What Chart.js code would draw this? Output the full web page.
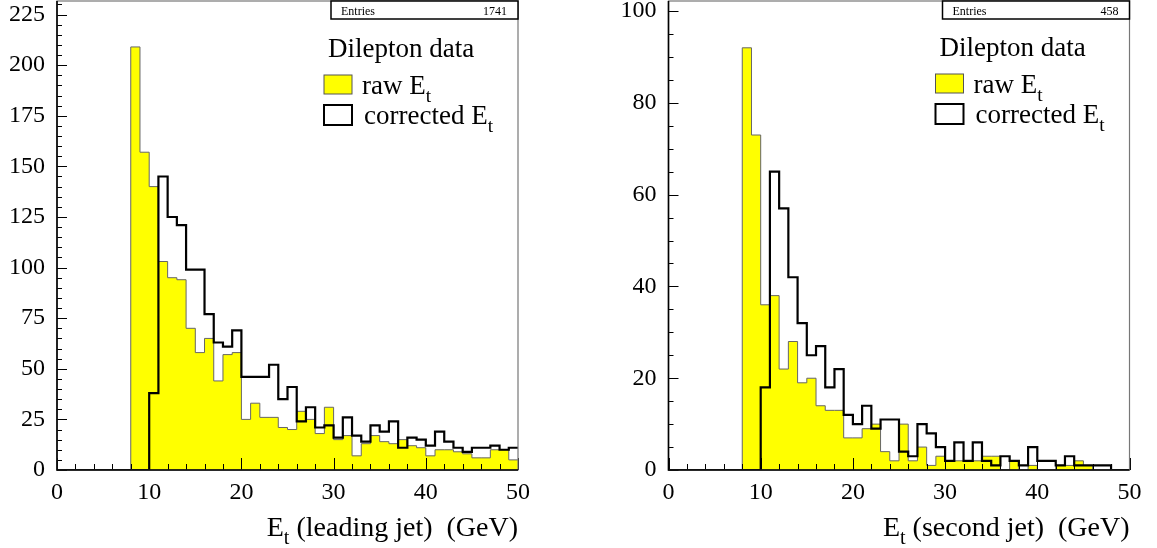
<!DOCTYPE html>
<html>
<head>
<meta charset="utf-8">
<script src="https://cdn.jsdelivr.net/npm/chart.js@4/dist/chart.umd.min.js"></script>
<style>
    body { margin: 0; background: #fff; }
    #wrap { position: relative; width: 1157px; height: 548px; }
    canvas { position: absolute; top: 0; }
</style>
</head>
<body>
<div id="wrap">
    <canvas id="leadingJet" width="578" height="548" style="left:0"></canvas>
    <canvas id="secondJet" width="579" height="548" style="left:578px"></canvas>
</div>
<script>
/* Et histograms, 1 GeV bins from 0 to 50 */
const xTicks = [0, 10, 20, 30, 40, 50];

const leadingRaw = [0, 0, 0, 0, 0, 0, 0, 0, 209, 157,
    140, 103, 95, 94, 70, 58, 65, 44, 57, 58,
    25, 33, 26, 26, 21, 20, 29, 25, 18, 31,
    15, 17, 7, 13, 17, 14, 13, 15, 12, 11,
    7, 10, 10, 9, 8, 6, 6, 10, 10, 5];
const leadingCorrected = [0, 0, 0, 0, 0, 0, 0, 0, 0, 0,
    38, 145, 125, 121, 99, 99, 77, 63, 61, 69,
    46, 46, 46, 52, 35, 41, 24, 31, 21, 22,
    16, 26, 17, 14, 22, 19, 24, 11, 16, 15,
    12, 19, 14, 11, 9, 11, 11, 12, 10, 11];
const leadingYTicks = [0, 25, 50, 75, 100, 125, 150, 175, 200, 225];

const secondRaw = [0, 0, 0, 0, 0, 0, 0, 0, 92, 73,
    36, 38, 22, 28, 19, 20, 14, 13, 13, 7,
    7, 9, 10, 4, 2, 10, 2, 5, 1, 3,
    2, 2, 2, 2, 3, 3, 0, 2, 0, 1,
    0, 0, 1, 1, 2, 1, 0, 0, 0, 0];
const secondCorrected = [0, 0, 0, 0, 0, 0, 0, 0, 0, 0,
    18, 65, 57, 42, 32, 25, 27, 18, 22, 12,
    10, 14, 9, 11, 11, 4, 3, 10, 8, 5,
    2, 6, 2, 6, 2, 1, 3, 2, 1, 5,
    2, 2, 1, 3, 1, 1, 1, 1, 0, 0];
const secondYTicks = [0, 20, 40, 60, 80, 100];

const FONT = "'Liberation Serif', 'Times New Roman', serif";

// histogram -> points on the bin edges, drawn as a stepped line
function steps(values) {
    const pts = values.map((v, i) => ({x: i, y: v}));
    pts.push({x: values.length, y: values[values.length - 1]});
    return pts;
}

function textSub(ctx, x, y, size, parts) {
    // parts: [text, isSub]
    let cx = x;
    parts.forEach(p => {
        ctx.font = (p[1] ? size * 0.72 : size) + 'px ' + FONT;
        ctx.fillText(p[0], cx, p[1] ? y + size * 0.3 : y);
        cx += ctx.measureText(p[0]).width;
    });
    return cx - x;
}
function widthSub(ctx, size, parts) {
    let w = 0;
    parts.forEach(p => {
        ctx.font = (p[1] ? size * 0.72 : size) + 'px ' + FONT;
        w += ctx.measureText(p[0]).width;
    });
    return w;
}

const decor = {
    id: 'decor',
    afterDraw(chart, args, o) {
        const ctx = chart.ctx;
        const a = chart.chartArea;
        const x = chart.scales.x, y = chart.scales.y;
        ctx.save();

        // inward ticks
        ctx.strokeStyle = '#000';
        ctx.lineWidth = 1;
        ctx.beginPath();
        for (let v = 0; v <= 50; v += 2) {
            const px = Math.round(x.getPixelForValue(v)) + 0.5;
            const len = v % 10 === 0 ? 12 : 6;
            ctx.moveTo(px, a.bottom);
            ctx.lineTo(px, a.bottom - len);
        }
        for (let v = 0; v <= y.max; v += 5) {
            const py = Math.round(y.getPixelForValue(v)) + 0.5;
            const len = v % o.yMajor === 0 ? 10 : 5;
            ctx.moveTo(a.left, py);
            ctx.lineTo(a.left + len, py);
        }
        ctx.stroke();

        // frame
        ctx.strokeStyle = '#777';
        ctx.lineWidth = 1.2;
        ctx.strokeRect(a.left, a.top, a.right - a.left, a.bottom - a.top);
        ctx.strokeStyle = '#000';
        ctx.lineWidth = 1.6;
        ctx.beginPath();
        ctx.moveTo(a.left, a.top);
        ctx.lineTo(a.left, a.bottom);
        ctx.lineTo(a.right, a.bottom);
        ctx.stroke();

        // stats box
        ctx.fillStyle = '#fff';
        ctx.fillRect(a.right - 187, a.top, 187, 18);
        ctx.strokeStyle = '#000';
        ctx.lineWidth = 1.5;
        ctx.strokeRect(a.right - 187, a.top, 187, 18);
        ctx.fillStyle = '#000';
        ctx.font = '12px ' + FONT;
        ctx.textBaseline = 'alphabetic';
        ctx.textAlign = 'left';
        ctx.fillText('Entries', a.right - 177, a.top + 14);
        ctx.textAlign = 'right';
        ctx.fillText(o.entries, a.right - 11, a.top + 14);
        ctx.textAlign = 'left';

        // legend
        const lx = a.right - 194;
        const ty = a.top + o.legendTop;
        ctx.font = '27px ' + FONT;
        ctx.fillText('Dilepton data', lx + 4, ty);
        ctx.fillStyle = '#ffff00';
        ctx.fillRect(lx, ty + 18, 28, 19);
        ctx.strokeStyle = '#555';
        ctx.lineWidth = 1;
        ctx.strokeRect(lx, ty + 18, 28, 19);
        ctx.fillStyle = '#fff';
        ctx.strokeStyle = '#000';
        ctx.lineWidth = 2;
        ctx.fillRect(lx, ty + 48, 28, 20);
        ctx.strokeRect(lx, ty + 48, 28, 20);
        ctx.fillStyle = '#000';
        textSub(ctx, lx + 38, ty + 37, 27, [['raw E', false], ['t', true]]);
        textSub(ctx, lx + 40, ty + 67, 27, [['corrected E', false], ['t', true]]);

        // axis title
        const parts = [['E', false], ['t', true], [o.title, false]];
        const w = widthSub(ctx, 28, parts);
        textSub(ctx, a.right - w, 536, 28, parts);
        ctx.restore();
    }
};

function makeHist(id, raw, corrected, yMax, yTicks, yWidth, padRight, opts) {
    const ctx = document.getElementById(id).getContext('2d');
    return new Chart(ctx, {
        type: 'line',
        data: {
            datasets: [{
                data: steps(corrected),
                stepped: 'before',
                borderColor: '#000',
                borderWidth: 2.2,
                pointRadius: 0,
                fill: false,
                order: 0
            }, {
                data: steps(raw),
                stepped: 'before',
                borderColor: '#666',
                borderWidth: 1,
                backgroundColor: '#ffff00',
                pointRadius: 0,
                fill: 'origin',
                order: 1
            }]
        },
        options: {
            responsive: false,
            animation: false,
            layout: {padding: {top: 1, right: padRight, left: 0, bottom: 0}},
            scales: {
                x: {
                    type: 'linear',
                    min: 0,
                    max: 50,
                    afterBuildTicks: s => { s.ticks = xTicks.map(v => ({value: v})); },
                    afterFit: s => { s.height = 78; s.paddingLeft = 0; s.paddingRight = 0; },
                    ticks: {
                        color: '#000',
                        padding: 8,
                        font: {family: FONT, size: 24}
                    },
                    grid: {display: false, drawTicks: false},
                    border: {display: false}
                },
                y: {
                    min: 0,
                    max: yMax,
                    afterBuildTicks: s => { s.ticks = yTicks.map(v => ({value: v})); },
                    afterFit: s => { s.width = yWidth; s.paddingTop = 0; s.paddingBottom = 0; },
                    ticks: {
                        color: '#000',
                        padding: 12,
                        font: {family: FONT, size: 24}
                    },
                    grid: {display: false, drawTicks: false},
                    border: {display: false}
                }
            },
            plugins: {
                legend: {display: false},
                tooltip: {enabled: false},
                decor: opts
            }
        },
        plugins: [decor]
    });
}

makeHist('leadingJet', leadingRaw, leadingCorrected, 231.7, leadingYTicks, 57, 60,
    {yMajor: 25, entries: '1741', legendTop: 56, title: ' (leading jet)  (GeV)'});
makeHist('secondJet', secondRaw, secondCorrected, 102.2, secondYTicks, 90.5, 27.5,
    {yMajor: 20, entries: '458', legendTop: 55, title: ' (second jet)  (GeV)'});
</script>
</body>
</html>
